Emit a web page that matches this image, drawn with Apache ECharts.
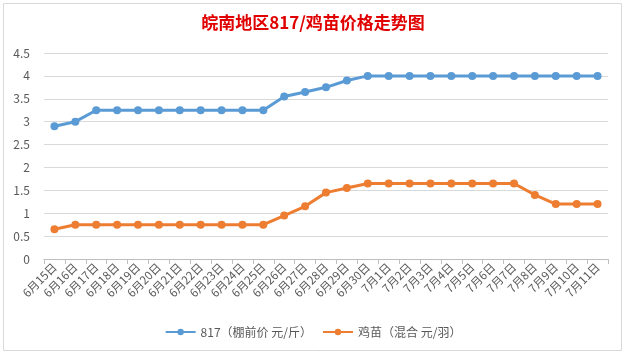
<!DOCTYPE html>
<html><head><meta charset="utf-8">
<script src="https://cdn.jsdelivr.net/npm/echarts@6/dist/echarts.min.js"></script>
<style>html,body{margin:0;padding:0;background:#fff}#c{width:626px;height:356px}</style>
</head><body><div id="c"></div>
<script>
const categories = ['6月15日','6月16日','6月17日','6月18日','6月19日','6月20日','6月21日','6月22日','6月23日','6月24日','6月25日','6月26日','6月27日','6月28日','6月29日','6月30日','7月1日','7月2日','7月3日','7月4日','7月5日','7月6日','7月7日','7月8日','7月9日','7月10日','7月11日'];
const price817 = [2.9,3.0,3.25,3.25,3.25,3.25,3.25,3.25,3.25,3.25,3.25,3.55,3.65,3.75,3.9,4,4,4,4,4,4,4,4,4,4,4,4];
const chickPrice = [0.65,0.75,0.75,0.75,0.75,0.75,0.75,0.75,0.75,0.75,0.75,0.95,1.15,1.45,1.55,1.65,1.65,1.65,1.65,1.65,1.65,1.65,1.65,1.4,1.2,1.2,1.2];
const seriesNames = ['817（棚前价 元/斤）','鸡苗（混合 元/羽）'];
const font = '"Noto Sans CJK SC", "Microsoft YaHei", sans-serif';
const chart = echarts.init(document.getElementById('c'));
chart.setOption({
  animation:false,
  textStyle:{fontFamily:font},
  graphic:[{type:'rect',shape:{x:3.5,y:3.5,width:618,height:347},style:{fill:'none',stroke:'#d9d9d9',lineWidth:1}}],
  title:{text:'皖南地区817/鸡苗价格走势图',left:'center',top:9,textStyle:{color:'#e00000',fontSize:17,fontWeight:'bold',fontFamily:font}},
  legend:{bottom:13,left:'center',itemWidth:30,itemHeight:8,itemGap:10,textStyle:{color:'#595959',fontSize:12,fontFamily:font},data:seriesNames},
  grid:{left:44,right:18,top:53,bottom:97},
  xAxis:{type:'category',data:categories,boundaryGap:true,
    axisLine:{lineStyle:{color:'#bfbfbf'}},axisTick:{show:true,lineStyle:{color:'#bfbfbf'},length:5},
    axisLabel:{rotate:45,interval:0,color:'#595959',fontSize:11.5,margin:6}},
  yAxis:{type:'value',min:0,max:4.5,interval:0.5,
    axisLine:{show:false},axisTick:{show:false},
    splitLine:{lineStyle:{color:'#d9d9d9'}},
    axisLabel:{color:'#595959',fontSize:12,margin:14}},
  series:[
    {name:seriesNames[0],type:'line',data:price817,symbol:'circle',symbolSize:8,color:'#5b9bd5',lineStyle:{width:3}},
    {name:seriesNames[1],type:'line',data:chickPrice,symbol:'circle',symbolSize:8,color:'#ed7d31',lineStyle:{width:3}}
  ]
});
</script></body></html>
